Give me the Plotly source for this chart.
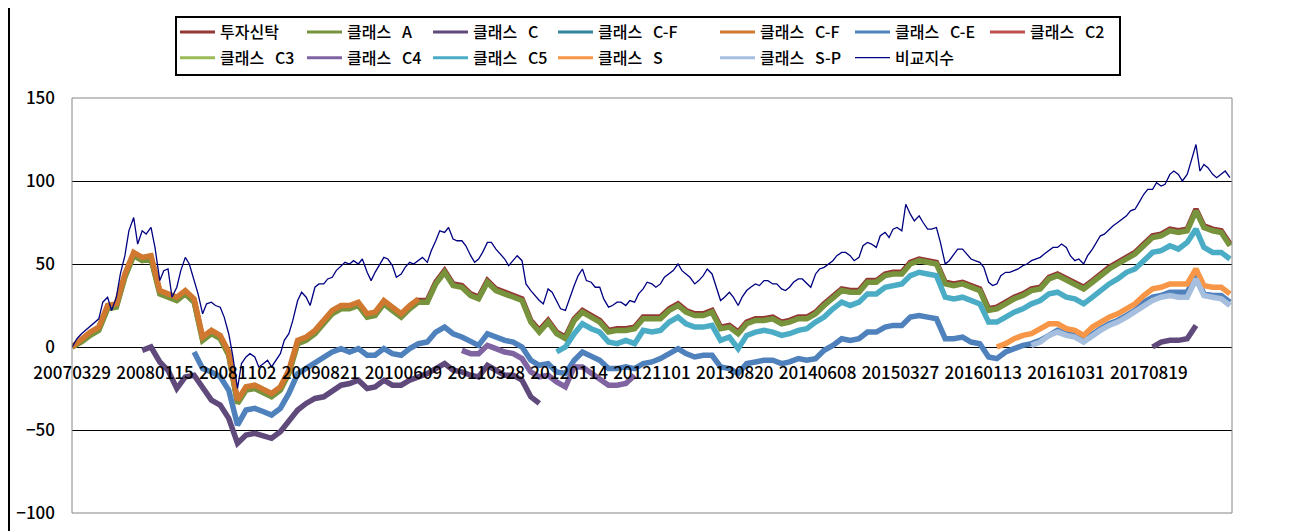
import pandas as pd
import plotly.graph_objects as go

FONT = "Noto Sans CJK KR, Malgun Gothic, sans-serif"

# ---------------- categories ----------------
x_labels = ["20070329", "20080115", "20081102", "20090821", "20100609", "20110328",
            "20120114", "20121101", "20130820", "20140608", "20150327", "20160113",
            "20161031", "20170819"]

# monthly sample dates (first point = fund start) used by the thick fund lines
month_dates = ["2007-03-29"] + [d.strftime("%Y-%m-%d") for d in
                                pd.date_range("2007-05-01", "2018-06-01", freq="MS")]
# semi-monthly sample dates used by the benchmark line
half_month_dates = ["2007-03-29"] + [d.strftime("%Y-%m-%d") for d in
                                     pd.date_range("2007-04-15", "2018-06-01", freq="SMS")]

# ---------------- series values ----------------
trust = [0, 4, 8, 11, 24, 25, 43, 56, 53, 54,
         33, 31, 29, 33, 28, 5, 9, 6, -4, -33,
         -25, -24, -27, -29, -25, -15, 3, 5, 9, 15,
         21, 24, 24, 26, 19, 20, 27, 23, 19, 24,
         28, 28, 39, 46, 38, 37, 32, 30, 40, 35,
         33, 31, 29, 16, 10, 16, 9, 6, 17, 22,
         19, 16, 10, 11, 11, 12, 18, 18, 18, 23,
         26, 22, 20, 20, 22, 12, 13, 9, 15, 17,
         17, 18, 15, 16, 18, 18, 21, 26, 31, 35,
         34, 34, 40, 40, 44, 45, 45, 51, 53, 52,
         51, 39, 38, 39, 37, 35, 23, 24, 27, 30,
         32, 35, 36, 42, 44, 41, 39, 36, 40, 44,
         48, 51, 54, 57, 62, 67, 68, 71, 70, 71,
         83, 73, 71, 70, 62]

class_a = [0, 3, 7, 10, 23, 24, 42, 55, 52, 53,
           32, 30, 28, 32, 27, 4, 8, 5, -5, -34,
           -26, -25, -28, -30, -26, -16, 2, 4, 8, 14,
           20, 23, 23, 25, 18, 19, 26, 22, 18, 23,
           27, 27, 38, 45, 37, 36, 31, 29, 39, 34,
           32, 30, 28, 15, 9, 15, 8, 5, 16, 21,
           18, 15, 9, 10, 10, 11, 17, 17, 17, 22,
           25, 21, 19, 19, 21, 11, 12, 8, 14, 16,
           16, 17, 14, 15, 17, 17, 20, 25, 30, 34,
           33, 33, 39, 39, 43, 44, 44, 50, 52, 51,
           50, 38, 37, 38, 36, 34, 22, 23, 26, 29,
           31, 34, 35, 41, 43, 40, 38, 35, 39, 43,
           47, 50, 53, 56, 61, 66, 67, 70, 69, 70,
           82, 72, 70, 69, 61]

class_c = ([None] * 8 +
           [-2, 0,
            -9, -14, -25, -18, -17, -25, -32, -35, -43, -58,
            -53, -52, -54, -55, -51, -45, -38, -34, -31, -30,
            -27, -23, -22, -20, -25, -24, -20, -23, -23, -20,
            -18, -16, -13, -10, -14, -15, -17, -18, -11, -14,
            -17, -17, -20, -30, -34] +
           [None] * 70 +
           [0, 3, 4, 4, 5, 13] +
           [None] * 4)

class_cf1 = [None] * 135

class_cf2 = ([0, 5, 9, 12, 25, 26, 44, 57, 54, 55,
              34, 32, 30, 34, 29, 6, 10, 7, -3, -32,
              -24, -23, -26, -28, -24, -14, 4, 6, 10, 16,
              22, 25, 25, 27, 20, 21, 28, 24, 20, 25,
              29] + [None] * 94)

class_ce = ([None] * 14 +
            [-3, -13, -15, -18, -26, -47,
             -38, -37, -39, -41, -37, -28, -16, -13, -10, -6,
             -3, -1, -3, -1, -5, -5, -1, -4, -5, -1,
             2, 3, 9, 12, 8, 6, 3, 1, 8, 6,
             4, 3, 0, -8, -11, -10, -15, -16, -8, -3,
             -6, -8, -13, -13, -12, -13, -10, -9, -7, -4,
             -1, -4, -6, -5, -5, -12, -13, -16, -10, -9,
             -8, -8, -10, -9, -7, -8, -7, -2, 1, 5,
             4, 5, 9, 9, 12, 13, 13, 18, 19, 18,
             17, 5, 5, 6, 3, 2, -6, -7, -3, -1,
             1, 2, 4, 7, 10, 8, 7, 4, 8, 11,
             14, 16, 19, 22, 27, 30, 31, 33, 33, 33,
             43, 32, 31, 31, 27])

class_c2 = [None] * 135
class_c3 = [None] * 135

class_c4 = ([None] * 45 +
            [-2, -4, -4, 1, -1,
             -3, -4, -7, -15, -18, -17, -21, -24, -12, -12,
             -16, -19, -23, -23, -22, -17] +
            [None] * 69)

class_c5 = ([None] * 56 +
            [-3, 0, 8, 14,
             11, 9, 3, 2, 4, 2, 10, 9, 10, 15,
             18, 14, 12, 12, 13, 4, 6, -1, 7, 9,
             10, 9, 7, 8, 10, 11, 15, 18, 23, 27,
             25, 27, 32, 32, 36, 37, 38, 43, 45, 44,
             43, 30, 29, 30, 28, 26, 15, 15, 18, 21,
             23, 26, 28, 32, 33, 30, 29, 26, 30, 34,
             38, 41, 45, 47, 52, 57, 58, 61, 59, 63,
             71, 60, 57, 57, 53])

class_s = ([None] * 107 +
           [0, 2, 5,
            7, 8, 11, 14, 14, 11, 10, 7, 12, 15,
            18, 20, 23, 26, 31, 35, 36, 38, 38, 38,
            47, 37, 36, 36, 32])

class_sp = ([None] * 111 +
            [1, 3, 7, 9, 7, 6, 3, 7, 10,
             13, 15, 18, 21, 25, 28, 30, 31, 30, 30,
             41, 31, 30, 29, 25])

benchmark = [0, 5, 8, 10, 13, 15, 17, 27, 30, 22,
             30, 44, 55, 70, 78, 62, 70, 68, 72, 60,
             40, 46, 47, 30, 36, 46, 54, 50, 40, 32,
             20, 26, 27, 25, 24, 18, 8, -5, -25, -10,
             -6, -4, -6, -12, -10, -8, -12, -8, -4, 4,
             8, 16, 28, 33, 30, 25, 36, 38, 38, 41,
             42, 46, 49, 51, 50, 52, 50, 53, 45, 40,
             45, 49, 54, 53, 49, 42, 44, 48, 51, 50,
             52, 54, 51, 58, 64, 70, 69, 72, 65, 64,
             64, 61, 55, 51, 53, 57, 63, 63, 59, 56,
             53, 49, 52, 55, 52, 38, 34, 31, 28, 26,
             35, 33, 28, 23, 22, 29, 37, 43, 47, 40,
             39, 36, 36, 29, 24, 25, 27, 27, 25, 28,
             27, 32, 35, 39, 38, 36, 38, 42, 44, 46,
             50, 46, 44, 42, 38, 40, 43, 47, 44, 37,
             28, 30, 33, 30, 25, 30, 34, 36, 38, 37,
             40, 40, 38, 38, 35, 34, 36, 39, 41, 41,
             38, 36, 44, 47, 48, 50, 52, 55, 57, 57,
             55, 52, 54, 61, 63, 62, 60, 67, 69, 66,
             71, 72, 70, 86, 80, 76, 79, 75, 71, 71,
             72, 63, 50, 52, 56, 59, 59, 56, 53, 52,
             51, 48, 39, 37, 38, 43, 45, 45, 46, 47,
             49, 50, 52, 53, 54, 56, 58, 60, 60, 62,
             60, 55, 52, 53, 50, 55, 59, 63, 67, 68,
             71, 73, 75, 77, 79, 82, 83, 87, 92, 95,
             95, 99, 97, 98, 104, 106, 104, 100, 104, 112,
             122, 106, 110, 108, 104, 102, 104, 106, 102]

# ---------------- styling ----------------
SP = "\u00a0" * 3
series = [
    # name, values, x, colour, line width, legend column
    ("투자신탁", trust, month_dates, "#953735", 5.5, 1),
    ("클래스" + SP + "A", class_a, month_dates, "#77933C", 5.5, 2),
    ("클래스" + SP + "C", class_c, month_dates, "#604A7B", 5.5, 3),
    ("클래스" + SP + "C-F", class_cf1, month_dates, "#31859C", 5.5, 4),
    ("클래스" + SP + "C-F", class_cf2, month_dates, "#D0782F", 5.5, 5),
    ("클래스" + SP + "C-E", class_ce, month_dates, "#4F81BD", 5.5, 6),
    ("클래스" + SP + "C2", class_c2, month_dates, "#C0504D", 5.5, 7),
    ("클래스" + SP + "C3", class_c3, month_dates, "#9BBB59", 5.5, 1),
    ("클래스" + SP + "C4", class_c4, month_dates, "#8064A2", 5.5, 2),
    ("클래스" + SP + "C5", class_c5, month_dates, "#4BACC6", 5.5, 3),
    ("클래스" + SP + "S", class_s, month_dates, "#F79646", 5.5, 4),
    ("클래스" + SP + "S-P", class_sp, month_dates, "#A7BFDE", 5.5, 5),
    ("비교지수", benchmark, half_month_dates, "#000080", 1.3, 6),
]

# The page body has an 8 px default margin, so the figure is drawn 8 px in
# from the window's top-left corner; all positions below are window pixels.
OFF = 8
W, H = 1292 - OFF, 531 - OFF
PLOT_X0, PLOT_X1, PLOT_Y0, PLOT_Y1 = 72, 1232, 98, 513
L, T = PLOT_X0 - OFF, PLOT_Y0 - OFF
R, B = W - (PLOT_X1 - OFF), H - (PLOT_Y1 - OFF)
PW, PH = PLOT_X1 - PLOT_X0, PLOT_Y1 - PLOT_Y0


def px_x(p):
    return (p - PLOT_X0) / PW


def px_y(p):
    return (PLOT_Y1 - p) / PH


fig = go.Figure()

# data traces (drawn in Excel series order)
for name, vals, xs, col, lw, _ in series:
    fig.add_trace(go.Scatter(x=xs, y=vals, mode="lines", name=name,
                             line=dict(color=col, width=lw),
                             showlegend=False, hoverinfo="skip"))

# legend entries
legend_cols_px = [175, 302, 428, 553, 715, 850, 985]
for i, (name, vals, xs, col, lw, lc) in enumerate(series):
    lid = "legend" if lc == 1 else f"legend{lc}"
    fig.add_trace(go.Scatter(x=[None], y=[None], mode="lines", name=name,
                             line=dict(color=col, width=3 if lw > 2 else 1.3),
                             legend=lid, legendgroup=f"g{i}", showlegend=True,
                             hoverinfo="skip"))

legend_common = dict(orientation="v", xanchor="left", yanchor="top",
                     y=px_y(15), bgcolor="rgba(0,0,0,0)", borderwidth=0,
                     itemwidth=35,
                     font=dict(family=FONT, size=16, color="#000000", weight=500),
                     tracegroupgap=2, itemclick=False, itemdoubleclick=False)
legends = {}
for c, pxl in enumerate(legend_cols_px, start=1):
    key = "legend" if c == 1 else f"legend{c}"
    legends[key] = dict(legend_common, x=px_x(pxl))

tick_dates = [pd.to_datetime(s, format="%Y%m%d").strftime("%Y-%m-%d") for s in x_labels]

fig.update_layout(
    width=W, height=H, autosize=False,
    margin=dict(l=L, r=R, t=T, b=B, pad=0, autoexpand=False),
    paper_bgcolor="#FFFFFF", plot_bgcolor="#FFFFFF",
    font=dict(family=FONT, color="#000000"),
    xaxis=dict(type="date", range=["2007-03-28 12:00", "2018-06-08"],
               anchor="free", position=0.4, automargin=False,
               showgrid=False, zeroline=False, showline=False,
               tickvals=tick_dates, ticktext=x_labels, ticks="",
               ticklabelstandoff=14,
               tickfont=dict(family=FONT, size=17, color="#000000", weight=500)),
    yaxis=dict(range=[-100, 150], tick0=0, dtick=50, automargin=False,
               showgrid=True, gridcolor="#000000", gridwidth=1,
               zeroline=True, zerolinecolor="#000000", zerolinewidth=1,
               showline=False, ticks="", ticklabelstandoff=16,
               tickfont=dict(family=FONT, size=17, color="#000000", weight=500)),
    shapes=[
        # plot-area frame
        dict(type="rect", xref="paper", yref="paper", x0=0, x1=1, y0=0, y1=1,
             line=dict(color="#868686", width=1), layer="above"),
        # legend box
        dict(type="rect", xref="paper", yref="paper",
             x0=px_x(176), x1=px_x(1120), y0=px_y(75), y1=px_y(17),
             line=dict(color="#000000", width=2), layer="above"),
        # chart-area left border
        dict(type="line", xref="paper", yref="paper",
             x0=px_x(9), x1=px_x(9), y0=px_y(531), y1=px_y(8),
             line=dict(color="#000000", width=2)),
    ],
    **legends,
)

fig.write_html("out.html")
